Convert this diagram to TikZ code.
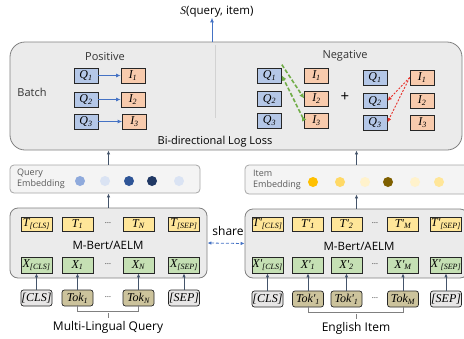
\documentclass[tikz,border=0pt]{standalone}
\usepackage{fontspec}
\setmainfont{Open Sans}
\newfontfamily\lblfont{Liberation Serif}
\usetikzlibrary{arrows.meta}

\definecolor{qblue}{HTML}{B4C7E7}
\definecolor{iorange}{HTML}{F8CBAD}
\definecolor{tyellow}{HTML}{FFE699}
\definecolor{xgreen}{HTML}{C5E0B4}
\definecolor{tokkhaki}{HTML}{CCC39C}
\definecolor{spgray}{HTML}{E7E6E6}
\definecolor{panelgray}{HTML}{EBEBEB}
\definecolor{embgray}{HTML}{F4F4F4}
\definecolor{arrowcol}{HTML}{44546A}
\definecolor{posblue}{HTML}{4472C4}
\definecolor{neggreen}{HTML}{70AD47}
\definecolor{negred}{HTML}{E8312A}

\newcommand{\lb}[2]{{\lblfont\itshape #1\textsubscript{#2}}}

\begin{document}
\begin{tikzpicture}[x=1pt, y=-1pt,
    panel/.style={draw=gray, fill=panelgray, line width=0.8pt, rounded corners=8pt, inner sep=0pt},
    embpanel/.style={draw=gray!70, fill=embgray, line width=0.8pt, rounded corners=4pt, inner sep=0pt},
    cell/.style={draw=black!85, line width=0.7pt, inner sep=0pt, font=\fontsize{12}{12}\selectfont},
    qbox/.style={cell, fill=qblue, minimum width=24pt, minimum height=15pt},
    ibox/.style={cell, fill=iorange, minimum width=24pt, minimum height=15pt},
    tbox/.style={cell, fill=tyellow, minimum width=31pt, minimum height=14pt},
    xbox/.style={cell, fill=xgreen, minimum width=31pt, minimum height=16pt},
    tokbox/.style={cell, fill=tokkhaki, rounded corners=2.5pt, minimum width=31pt, minimum height=16pt},
    spbox/.style={tokbox, fill=spgray},
    dot/.style={circle, inner sep=0pt, minimum size=10pt},
    txt/.style={inner sep=0pt, font=\fontsize{11}{11}\selectfont, text=black!80},
    n/.style={-{Latex[length=4pt, width=3.5pt]}, line width=0.8pt, arrowcol},
    posarrow/.style={-{Latex[length=4.5pt, width=4pt]}, line width=0.8pt, posblue},
    gneg/.style={line width=1.6pt, neggreen, dash pattern=on 4pt off 2pt},
    rneg/.style={-{Latex[length=4.5pt, width=4pt]}, line width=0.9pt, negred, dash pattern=on 2pt off 1.5pt}]
    \useasboundingbox (0,0) rectangle (464,338);
    % loss panel
    \node[panel, rounded corners=15pt, minimum width=452pt, minimum height=108pt] (batchbox) at (236,96) {};
    \draw[gray!35, line width=1pt] (215,45) -- (215,118);
    \node[inner sep=0pt, font=\fontsize{11.5}{11.5}\selectfont] (score) at (217,12) {\lblfont\itshape S\normalfont(query, item)};
    \node[txt] (batch) at (32,92) {Batch};
    \node[txt] (positive) at (105,57) {Positive};
    \node[txt] (negative) at (345,56) {Negative};
    \node[txt, text=black] (loss) at (215,142) {Bi-directional Log Loss};
    \node[inner sep=0pt, font=\fontsize{15}{15}\selectfont] (plus) at (345,97) {+};
    % positive pairs
    \node[qbox] (pq1) at (86,75.5) {\lb{Q}{1}};
    \node[qbox] (pq2) at (86,99.5) {\lb{Q}{2}};
    \node[qbox] (pq3) at (86,121.5) {\lb{Q}{3}};
    \node[ibox] (pi1) at (133,75.5) {\lb{I}{1}};
    \node[ibox] (pi2) at (133,99.5) {\lb{I}{2}};
    \node[ibox] (pi3) at (134.5,121.5) {\lb{I}{3}};
    % negative pairs
    \node[qbox] (nq1) at (269.5,75.5) {\lb{Q}{1}};
    \node[qbox] (nq2) at (269.5,99) {\lb{Q}{2}};
    \node[qbox] (nq3) at (269.5,120.5) {\lb{Q}{3}};
    \node[ibox] (ni1) at (316.5,75.5) {\lb{I}{1}};
    \node[ibox] (ni2) at (316.5,98.5) {\lb{I}{2}};
    \node[ibox] (ni3) at (316.5,120.5) {\lb{I}{3}};
    \node[qbox] (rq1) at (375,77.5) {\lb{Q}{1}};
    \node[qbox] (rq2) at (375,101) {\lb{Q}{2}};
    \node[qbox] (rq3) at (375,122.5) {\lb{Q}{3}};
    \node[ibox] (ri1) at (422,77.5) {\lb{I}{1}};
    \node[ibox] (ri2) at (422,100.5) {\lb{I}{2}};
    \node[ibox] (ri3) at (422.5,123) {\lb{I}{3}};
    \foreach \k in {1,2,3}
        \draw[posarrow] (pq\k) -- (pi\k);
    \draw[gneg, -{Latex[length=5pt, width=5pt]}] ([yshift=3pt]nq1.north east) -- (ni2.west);
    \draw[gneg, {Latex[length=5pt, width=5pt, reversed]}-{Latex[length=5pt, width=5pt]}] (ni3.west) -- (nq1.east);
    \draw[rneg] (ri1.west) -- (rq2.east);
    \draw[rneg] (ri1.west) -- (rq3.east);
    % embeddings
    \node[embpanel, minimum width=190pt, minimum height=28pt] (qemb) at (105,179) {};
    \node[txt, anchor=west, align=left, font=\fontsize{9}{11}\selectfont, text=black!65] (qemblbl) at (17,179) {Query\\Embedding};
    \node[embpanel, minimum width=225pt, minimum height=29pt] (iemb) at (357.5,179.5) {};
    \node[txt, anchor=west, align=left, font=\fontsize{9}{11}\selectfont, text=black!65] (iemblbl) at (253,180) {Item\\Embedding};
    \foreach \x/\c [count=\i] in {80/8FAADC, 105/DAE3F3, 129/2F5597, 152/203864, 179/DAE3F3} {
        \definecolor{dotcol}{HTML}{\c}
        \node[dot, fill=dotcol] (qd\i) at (\x,181) {};
    }
    \foreach \x/\c [count=\i] in {313/FFC000, 340/FFD966, 365/FFF2CC, 388/7F6000, 415/FFF2CC, 439/FFE699} {
        \definecolor{dotcol}{HTML}{\c}
        \node[dot, fill=dotcol] (id\i) at (\x,182) {};
    }
    % encoders
    \node[panel, minimum width=197pt, minimum height=70pt] (qbert) at (108.5,243) {};
    \node[panel, minimum width=223pt, minimum height=69pt] (ibert) at (356.5,243.5) {};
    \node[txt, text=black, font=\fontsize{11.5}{11.5}\selectfont] (qbertlbl) at (108,245) {M-Bert/AELM};
    \node[txt, text=black, font=\fontsize{11.5}{11.5}\selectfont] (ibertlbl) at (359,246) {M-Bert/AELM};
    \node[inner sep=0pt, font=\fontsize{12}{12}\selectfont] (share) at (228,231) {share};
    \draw[{Latex[length=4pt, width=3.5pt]}-{Latex[length=4pt, width=3.5pt]}, posblue, line width=0.8pt, dash pattern=on 3pt off 2pt] (qbert.east) -- (ibert.west);
    % query side
    \foreach \x/\s [count=\i] in {36.5/[CLS], 77.5/1, 138.5/N, 184/[SEP]}
        \node[tbox] (qt\i) at (\x,224) {\lb{T}{\s}};
    \foreach \x/\s [count=\i] in {36.5/[CLS], 77.5/1, 138.5/N, 184/[SEP]}
        \node[xbox] (qx\i) at (\x,265) {\lb{X}{\s}};
    \node[spbox] (qk1) at (36.5,298) {\lblfont\itshape [CLS]};
    \node[tokbox] (qk2) at (77.5,298) {\lb{Tok}{1}};
    \node[tokbox] (qk3) at (138.5,298) {\lb{Tok}{N}};
    \node[spbox] (qk4) at (184,298) {\lblfont\itshape [SEP]};
    \foreach \y in {224,265,298}
        \node[txt, font=\fontsize{8}{8}\selectfont] at (108,\y-1) {\dots};
    \foreach \i in {1,...,4}
        \draw[n] (qk\i) -- (qx\i);
    \draw[gray, line width=0.7pt] ([yshift=1pt]qk2.south) -- ++(0,6) -| ([yshift=1pt]qk3.south);
    \draw[gray, line width=0.7pt] (108,313) -- (108,318);
    \node[inner sep=0pt, font=\fontsize{12}{12}\selectfont] (qname) at (108,327) {Multi-Lingual Query};
    % item side
    \foreach \x/\s [count=\i] in {267.5/[CLS], 308/1, 346.5/2, 403/M, 446/[SEP]}
        \node[tbox] (it\i) at (\x,224) {\lb{T'}{\s}};
    \foreach \x/\s [count=\i] in {267.5/[CLS], 308/1, 346.5/2, 403/M, 446/[SEP]}
        \node[xbox] (ix\i) at (\x,265) {\lb{X'}{\s}};
    \node[spbox] (ik1) at (267.5,299) {\lblfont\itshape [CLS]};
    \node[tokbox] (ik2) at (308,299) {\lb{Tok'}{1}};
    \node[tokbox] (ik3) at (346.5,299) {\lb{Tok'}{1}};
    \node[tokbox] (ik4) at (403,299) {\lb{Tok}{M}};
    \node[spbox] (ik5) at (446,299) {\lblfont\itshape [SEP]};
    \foreach \y in {224,265,299}
        \node[txt, font=\fontsize{8}{8}\selectfont] at (375,\y-1) {\dots};
    \foreach \i in {1,...,5}
        \draw[n] (ik\i) -- (ix\i);
    \draw[gray, line width=0.7pt] ([yshift=1pt]ik2.south) -- ++(0,6) -| ([yshift=1pt]ik4.south);
    \draw[gray, line width=0.7pt] (356,314) -- (356,319);
    \node[inner sep=0pt, font=\fontsize{12}{12}\selectfont] (iname) at (356,328) {English Item};
    % upward flow
    \draw[n] (qbert.north) -- (qbert.north |- qemb.south);
    \draw[n] (qbert.north |- qemb.north) -- (qbert.north |- batchbox.south);
    \draw[n] (ibert.north) -- (ibert.north |- iemb.south);
    \draw[n] (ibert.north |- iemb.north) -- (ibert.north |- batchbox.south);
    \draw[posarrow] ([xshift=-5pt]batchbox.north -| score.south) -- ([xshift=-5pt]score.south);
\end{tikzpicture}
\end{document}
